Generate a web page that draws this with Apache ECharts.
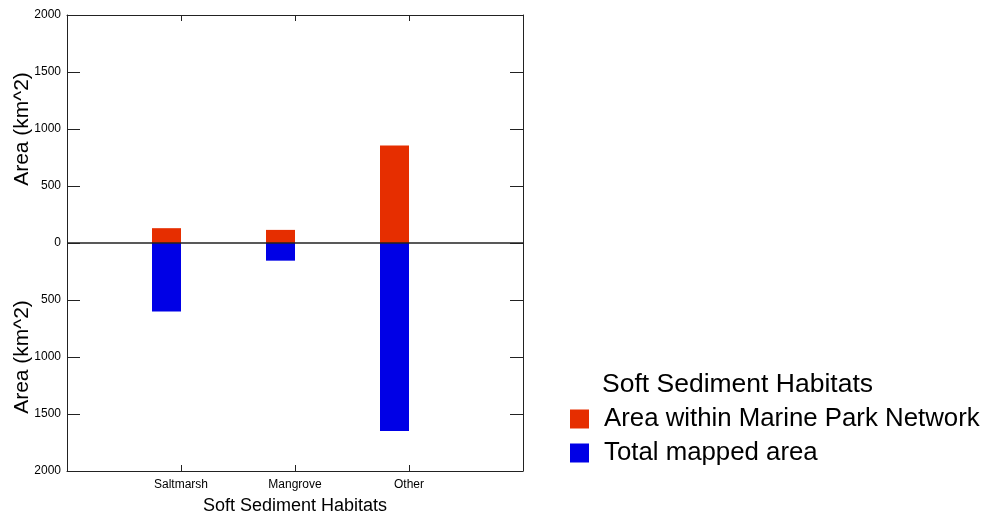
<!DOCTYPE html>
<html><head><meta charset="utf-8">
<script src="https://cdn.jsdelivr.net/npm/echarts@6/dist/echarts.min.js"></script>
<style>html,body{margin:0;padding:0;background:#fff}#c{width:985px;height:515px}</style>
</head><body><div id="c"></div>
<script>
const categories = ['', 'Saltmarsh', 'Mangrove', 'Other', ''];
const insideParkArea = [null, 130, 115, 855, null];
const totalMappedArea = [null, -600, -155, -1650, null];
const yTicks = { min: -2000, max: 2000, interval: 500 };
const seriesNames = ['Area within Marine Park Network', 'Total mapped area'];
const axisTitle = 'Area (km^2)';
const xTitle = 'Soft Sediment Habitats';

const FONT = 'Arial, "Liberation Sans", sans-serif';
const chart = echarts.init(document.getElementById('c'), null, {renderer: 'canvas'});
const lineC = '#222';
const tickShow = (i, v) => v !== '';
chart.setOption({
  backgroundColor: '#fff',
  animation: false,
  title: {
    text: 'Soft Sediment Habitats', left: 597, top: 366,
    textStyle: {fontFamily: FONT, fontSize: 26.5, fontWeight: 'normal', color: '#000'}
  },
  legend: {
    data: seriesNames, orient: 'vertical', left: 565, top: 401,
    icon: 'rect', itemWidth: 19, itemHeight: 19, itemGap: 8,
    textStyle: {fontFamily: FONT, fontSize: 25.8, color: '#000', lineHeight: 26, padding: [0, 0, 0, 10]}
  },
  grid: {left: 67, right: 462, top: 15, bottom: 44, containLabel: false, outerBoundsMode: 'none'},
  xAxis: [
    {type: 'category', data: categories, boundaryGap: false, position: 'bottom',
     axisLine: {onZero: false, lineStyle: {color: lineC, width: 1}},
     axisTick: {inside: true, length: 6, interval: tickShow, lineStyle: {color: lineC}},
     axisLabel: {interval: 0, fontFamily: FONT, fontSize: 12, color: '#000', margin: 8},
     name: xTitle, nameLocation: 'middle', nameGap: 26,
     nameTextStyle: {fontFamily: FONT, fontSize: 18, color: '#000'}},
    {type: 'category', data: categories, boundaryGap: false, position: 'top',
     axisLine: {onZero: false, lineStyle: {color: lineC, width: 1}},
     axisTick: {inside: true, length: 6, interval: tickShow, lineStyle: {color: lineC}},
     axisLabel: {show: false}}
  ],
  yAxis: [
    {type: 'value', min: yTicks.min, max: yTicks.max, interval: yTicks.interval, position: 'left',
     axisLine: {show: true, onZero: false, lineStyle: {color: lineC, width: 1}},
     axisTick: {show: true, inside: true, length: 13, lineStyle: {color: lineC}},
     splitLine: {show: false},
     axisLabel: {formatter: v => String(Math.abs(v)), fontFamily: FONT, fontSize: 12, color: '#000', margin: 6}},
    {type: 'value', min: yTicks.min, max: yTicks.max, interval: yTicks.interval, position: 'right',
     axisLine: {show: true, onZero: false, lineStyle: {color: lineC, width: 1}},
     axisTick: {show: true, inside: true, length: 13, lineStyle: {color: lineC}},
     splitLine: {show: false}, axisLabel: {show: false}}
  ],
  graphic: [
    {type: 'text', x: 22, y: 129, rotation: Math.PI / 2,
     style: {text: axisTitle, font: '21px ' + FONT, fill: '#000', textAlign: 'center', textVerticalAlign: 'middle'}},
    {type: 'text', x: 22, y: 357, rotation: Math.PI / 2,
     style: {text: axisTitle, font: '21px ' + FONT, fill: '#000', textAlign: 'center', textVerticalAlign: 'middle'}}
  ],
  series: [
    {name: seriesNames[0], type: 'bar', stack: 'a', data: insideParkArea, barWidth: 29, barGap: '0%',
     itemStyle: {color: '#e62e00'},
     markLine: {silent: true, symbol: 'none', label: {show: false},
       lineStyle: {color: lineC, type: 'solid', width: 1.5}, data: [{yAxis: 0}]}},
    {name: seriesNames[1], type: 'bar', stack: 'a', data: totalMappedArea, barWidth: 29, barGap: '0%',
     itemStyle: {color: '#0000e6'}},
    {name: 'spacer', type: 'bar', stack: 'b', data: [null, null, null, null, null], barWidth: 29, barGap: '0%',
     itemStyle: {color: 'transparent'}, silent: true}
  ]
});
</script></body></html>
